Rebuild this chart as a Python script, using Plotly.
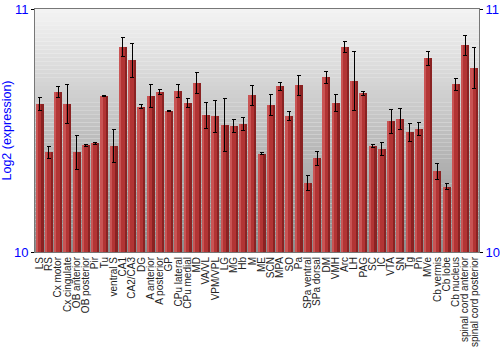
import plotly.graph_objects as go

categories = ["LS", "RS", "Cx motor", "Cx cingulate", "OB anterior", "OB posterior", "Pir", "Tu",
              "ventral S", "CA1", "CA2/CA3", "DG", "A anterior", "A posterior", "GP", "CPu lateral",
              "CPu medial", "MD", "VA/VL", "VPM/VPL", "LG", "MG", "Hb", "M", "ME", "SCN", "MPA", "SO",
              "Pa", "SPa ventral", "SPa dorsal", "DM", "VMH", "Arc", "LH", "PAG", "SC", "IC", "VTA",
              "SN", "Tg", "Pn", "MVe", "Cb vermis", "Cb lobe", "Cb nucleus", "spinal cord anterior",
              "spinal cord posterior"]
values = [10.609, 10.41, 10.658, 10.609, 10.41, 10.44, 10.447, 10.642,
          10.436, 10.844, 10.789, 10.598, 10.642, 10.658, 10.58, 10.661,
          10.614, 10.695, 10.563, 10.558, 10.523, 10.519, 10.527, 10.645, 10.405, 10.604, 10.682, 10.56,
          10.686, 10.283, 10.385, 10.719, 10.613, 10.845, 10.704, 10.654, 10.436, 10.423, 10.538,
          10.547, 10.492, 10.506, 10.797, 10.332, 10.269, 10.69, 10.85, 10.757]
errors = [0.025, 0.025, 0.023, 0.08, 0.07, 0.004, 0.004, 0.004,
          0.067, 0.038, 0.069, 0.007, 0.047, 0.01, 0.003, 0.027,
          0.019, 0.043, 0.053, 0.065, 0.11, 0.027, 0.026, 0.042, 0.004, 0.043, 0.016, 0.018,
          0.042, 0.03, 0.03, 0.025, 0.034, 0.022, 0.123, 0.008, 0.007, 0.027, 0.05,
          0.042, 0.038, 0.027, 0.03, 0.032, 0.012, 0.024, 0.041, 0.086]

BASE = 10
heights = [v - BASE for v in values]

fig = go.Figure()
# layered bars to imitate the horizontal shading of each bar
fig.add_trace(go.Bar(x=categories, y=heights, base=BASE, width=0.88, offset=-0.44,
                     marker=dict(color="#8a2222", line=dict(width=0)), hoverinfo="skip"))
fig.add_trace(go.Bar(x=categories, y=heights, base=BASE, width=0.6, offset=-0.42,
                     marker=dict(color="#b23434", line=dict(width=0)), hoverinfo="skip"))
fig.add_trace(go.Bar(x=categories, y=heights, base=BASE, width=0.22, offset=-0.42,
                     marker=dict(color="#c95454", line=dict(width=0)), hoverinfo="skip"))
fig.add_trace(go.Bar(x=categories, y=heights, base=BASE, width=0.88, offset=-0.44,
                     marker=dict(color="rgba(0,0,0,0)", line=dict(width=0)),
                     error_y=dict(type="data", array=errors, color="black", thickness=1, width=2)))
fig.add_trace(go.Scatter(x=[categories[0]], y=[BASE], yaxis="y2", mode="markers",
                         marker=dict(opacity=0), hoverinfo="skip", showlegend=False))

# vertical gradient background
N = 60
top = (244, 244, 244)
bot = (140, 140, 140)
shapes = []
for i in range(N):
    t = (i + 0.5) / N
    c = tuple(int(round(top[k] + (bot[k] - top[k]) * t)) for k in range(3))
    shapes.append(dict(type="rect", xref="paper", yref="paper", x0=0, x1=1,
                       y0=1 - i / N, y1=1 - (i + 1) / N, layer="below",
                       line=dict(width=0), fillcolor="rgb(%d,%d,%d)" % c))

fig.update_layout(
    width=500, height=350,
    margin=dict(l=35, r=21, t=9, b=98),
    barmode="overlay", bargap=0, showlegend=False,
    paper_bgcolor="white", plot_bgcolor="white",
    shapes=shapes,
    font=dict(family="Arial, Liberation Sans", color="#222"),
    xaxis=dict(type="category", tickangle=-90, tickfont=dict(size=10, color="#222"),
               tickmode="array", tickvals=categories, ticktext=categories,
               range=[-0.5, len(categories) - 0.5],
               showline=True, mirror=True, linecolor="#777", linewidth=1,
               ticks="", showgrid=False, automargin=False),
    yaxis=dict(range=[10, 11], tickvals=[10, 11], ticks="outside", ticklen=3, tickcolor="black",
               tickfont=dict(size=13, color="#0000ff"), showgrid=False,
               showline=True, mirror=True, linecolor="#777", linewidth=1,
               title=dict(text="Log2 (expression)", font=dict(size=12.5, color="#0000ff"), standoff=4),
               automargin=False),
    yaxis2=dict(range=[10, 11], tickvals=[10, 11], overlaying="y", side="right", ticks="outside",
                ticklen=3, tickcolor="black", tickfont=dict(size=13, color="#0000ff"),
                showgrid=False, showline=False, automargin=False),
)

fig.write_html("out.html")
